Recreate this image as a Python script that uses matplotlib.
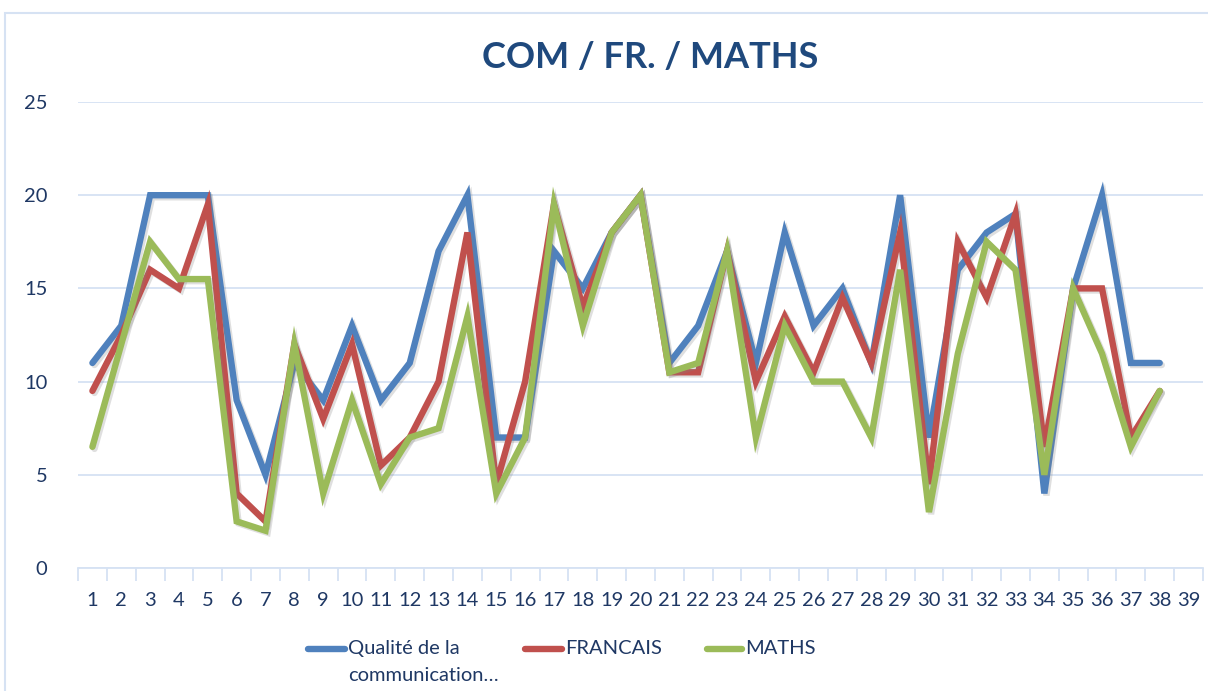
import matplotlib
matplotlib.use("Agg")
import matplotlib.pyplot as plt
from matplotlib.lines import Line2D
from matplotlib.patches import Rectangle
import matplotlib.patheffects as pe

plt.rcParams['font.family'] = ['Lato', 'DejaVu Sans']

categories = list(range(1, 40))
series_names = ["Qualité de la\ncommunication…", "FRANCAIS", "MATHS"]

qualite = [11, 13, 20, 20, 20, 9, 5, 11, 9, 13, 9, 11, 17, 20, 7, 7, 17, 15, 18, 20,
           11, 13, 17, 11, 18, 13, 15, 11, 20, 7, 16, 18, 19, 4, 15, 20, 11, 11]
francais = [9.5, 12.5, 16, 15, 19.5, 4, 2.5, 12, 8, 12, 5.5, 7, 10, 18, 4.5, 10, 19.5, 14, 18, 20,
            10.5, 10.5, 17, 10, 13.5, 10.5, 14.5, 11, 18, 4.5, 17.5, 14.5, 19, 6.5, 15, 15, 7, 9.5]
maths = [6.5, 12, 17.5, 15.5, 15.5, 2.5, 2, 12, 4, 9, 4.5, 7, 7.5, 13.5, 4, 7, 19.5, 13, 18, 20,
         10.5, 11, 17, 7, 13, 10, 10, 7, 16, 3, 11.5, 17.5, 16, 5, 15, 11.5, 6.5, 9.5]

colors = ["#4F81BD", "#C0504D", "#9BBB59"]
text_color = "#1F3864"
grid_color = "#D6E2F3"

fig = plt.figure(figsize=(12.08, 6.91), dpi=100)
ax = fig.add_axes([78/1208, 1 - 568/691, (1203 - 78)/1208, (568 - 102)/691])

shadow = [pe.SimpleLineShadow(offset=(1.5, -1.5), alpha=0.25, shadow_color='gray'), pe.Normal()]
for vals, c in zip([qualite, francais, maths], colors):
    x = categories[:len(vals)]
    ax.plot(x, vals, color=c, linewidth=4.6, solid_joinstyle='miter',
            solid_capstyle='round', path_effects=shadow, zorder=3)

ax.set_xlim(0.5, 39.5)
ax.set_ylim(0, 25)
ax.set_yticks([0, 5, 10, 15, 20, 25])
ax.set_xticks(categories)
ax.set_xticklabels([str(c) for c in categories])
ax.set_xticks([c + 0.5 for c in range(0, 40)], minor=True)
ax.tick_params(axis='x', which='major', length=0, pad=17, labelsize=14.5, labelcolor=text_color)
ax.tick_params(axis='x', which='minor', length=9, color=grid_color, width=1.3)
ax.tick_params(axis='y', length=0, pad=22, labelsize=14.5, labelcolor=text_color)

ax.grid(axis='y', color=grid_color, linewidth=1.3, zorder=0)
for s in ['top', 'right', 'left']:
    ax.spines[s].set_visible(False)
ax.spines['bottom'].set_color(grid_color)
ax.spines['bottom'].set_linewidth(1.3)
ax.set_axisbelow(True)

# Outer chart frame
fig.add_artist(Rectangle((5/1208, -0.01), 1.02, 1 - 13/691 + 0.01, transform=fig.transFigure,
                         fill=False, edgecolor="#D6E2F3", linewidth=1.5))

fig.text(650/1208, 1 - 57/691, "COM / FR. / MATHS", ha='center', va='center',
         fontsize=26, fontweight='bold', color="#1F497D")

# Legend (manual, entries below the plot)
legend_pos = [(308, 345, 348), (525, 562, 565), (707, 742, 745)]
y_leg = 1 - 649/691
for (x0, x1, xt), c, name in zip(legend_pos, colors, series_names):
    fig.add_artist(Line2D([x0/1208, x1/1208], [y_leg, y_leg], transform=fig.transFigure,
                          color=c, linewidth=4.6, solid_capstyle='round'))
    fig.text(xt/1208, y_leg + 9/691, name, ha='left', va='top', fontsize=14.5,
             color=text_color, linespacing=1.7)

fig.savefig("out.png", dpi=100)
